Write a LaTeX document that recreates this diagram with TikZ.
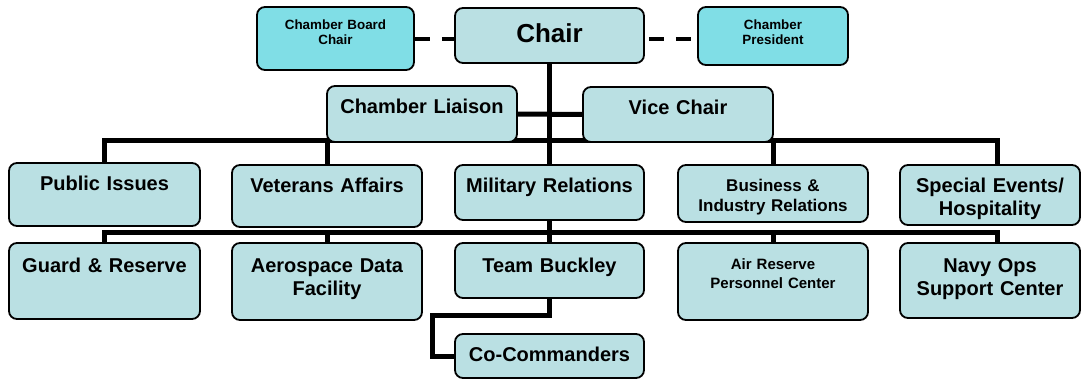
\documentclass[tikz,border=0pt]{standalone}
\usepackage{fontspec}
\setmainfont{Liberation Sans}
\usetikzlibrary{backgrounds}

\definecolor{unitblue}{RGB}{186,224,227}
\definecolor{chambercyan}{RGB}{128,222,230}

\tikzset{
  unit/.style={draw=black,line width=1.8pt,rounded corners=8pt,fill=unitblue,
    inner sep=0pt,align=center,text width=190pt,text height=27pt,
    font=\bfseries\fontsize{20}{23}\selectfont},
  chamber/.style={unit,fill=chambercyan,text height=22pt,
    font=\bfseries\fontsize{13.4}{15}\selectfont},
  link/.style={draw=black,line width=5pt,line join=miter},
  dashlink/.style={draw=black,line width=4pt,dash pattern=on 15pt off 12pt}
}

\begin{document}
\begin{tikzpicture}[x=1pt,y=-1pt]
    \useasboundingbox (0,0) rectangle (1081,381);
    % top row
    \node[chamber,text width=157pt,text depth=41pt] (brdchair) at (335.5,38.5) {Chamber Board\\Chair};
    \node[unit,text width=189pt,text height=34pt,text depth=21pt,
      font=\bfseries\fontsize{26}{30}\selectfont] (chair) at (549.5,35.5) {Chair};
    \node[chamber,text width=150pt,text depth=36pt] (chpres) at (773,36) {Chamber\\President};
    \node[unit,text depth=29pt] (liaison) at (422,114) {Chamber Liaison};
    \node[unit,text depth=28pt] (vice) at (678,114.5) {Vice Chair};
    % committees
    \node[unit,text width=191pt,text depth=36pt] (pubiss) at (104.5,194.5) {Public Issues};
    \node[unit,text depth=35pt] (vetaff) at (327,196) {Veterans Affairs};
    \node[unit,text width=189pt,text depth=28pt] (milrel) at (549.5,192.5) {Military Relations};
    \node[unit,text height=26pt,text depth=31pt,
      font=\bfseries\fontsize{17}{20}\selectfont] (busind) at (773,193.5) {Business \&\\Industry Relations};
    \node[unit,text width=180pt,text depth=33pt] (specev) at (990,195) {Special Events/\\Hospitality};
    % military units
    \node[unit,text width=191pt,text height=29pt,text depth=47pt] (guard) at (104.5,281) {Guard \& Reserve};
    \node[unit,text height=29pt,text depth=48pt] (aero) at (327,281.5) {Aerospace Data\\Facility};
    \node[unit,text width=189pt,text height=29pt,text depth=26pt] (team) at (549.5,270.5) {Team Buckley};
    \node[unit,text height=26pt,text depth=51pt,
      font=\bfseries\fontsize{15}{19}\selectfont] (airres) at (773,281.5) {Air Reserve\\Personnel Center};
    \node[unit,text width=180pt,text height=29pt,text depth=46pt] (navy) at (990,280.5) {Navy Ops\\Support Center};
    \node[unit,text width=189pt,text depth=17pt] (cocom) at (549.5,356) {Co-Commanders};
    \begin{scope}[on background layer,every edge/.style={link}]
      \coordinate (busAe) at (997,140);
      \coordinate (busBe) at (997,232);
      \coordinate (bend) at (432,315);
      \draw[dashlink] (brdchair.east) -- (brdchair.east -| chair.west);
      \draw[dashlink,dash phase=23pt] (chair.east |- brdchair.east) -- (chpres.west |- brdchair.east);
      \draw[link] (pubiss.north) |- (busAe) -- (busAe |- specev.north);
      \draw[link] (guard.north) |- (busBe) -- (busBe |- navy.north);
      \path (chair) edge (milrel);
      \path (milrel) edge (team);
      \path (liaison) edge (vice);
      \path (vetaff.north |- busAe) edge (vetaff);
      \path (busind.north |- busAe) edge (busind);
      \path (aero.north |- busBe) edge (aero);
      \path (airres.north |- busBe) edge (airres);
      \draw[link] (team.south) |- (bend) |- (cocom.west);
    \end{scope}
\end{tikzpicture}
\end{document}
